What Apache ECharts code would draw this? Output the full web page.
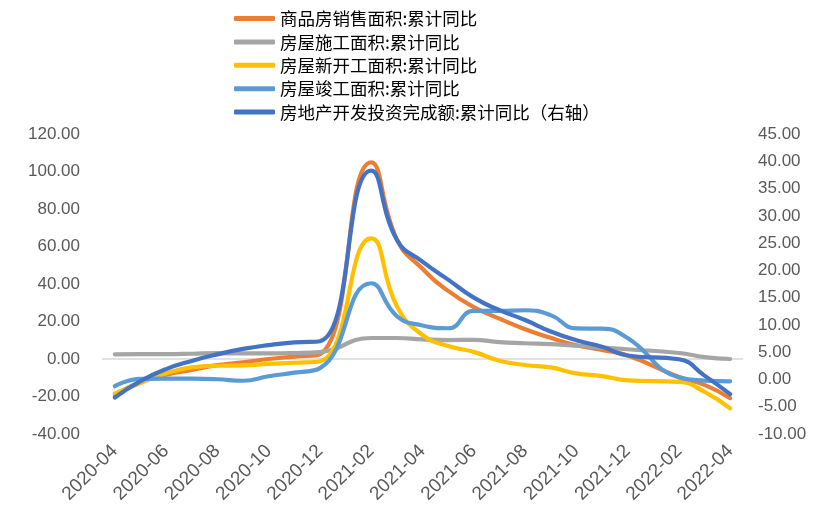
<!DOCTYPE html>
<html>
<head>
<meta charset="utf-8">
<script src="https://cdn.jsdelivr.net/npm/echarts@6/dist/echarts.min.js"></script>
<style>html,body{margin:0;padding:0;background:#fff}#c{width:830px;height:520px}</style>
</head>
<body>
<div id="c"></div>
<script>
const categories = ['2020-04','2020-05','2020-06','2020-07','2020-08','2020-09','2020-10','2020-11','2020-12','2021-01','2021-02','2021-03','2021-04','2021-05','2021-06','2021-07','2021-08','2021-09','2021-10','2021-11','2021-12','2022-01','2022-02','2022-03','2022-04'];
const salesArea = [-19.3,-12.3,-8.4,-5.8,-3.3,-1.8,0.0,1.3,2.6,null,104.9,63.8,48.1,36.3,27.7,21.5,15.9,11.3,7.3,4.8,1.9,null,-9.6,-13.8,-20.9];
const constructionArea = [2.5,2.6,2.6,2.8,3.1,3.0,3.0,3.2,3.7,null,11.2,11.2,10.5,10.1,10.2,9.0,8.4,7.9,7.1,6.1,5.2,null,3.2,1.0,0.0];
const newStartArea = [-18.4,-12.8,-7.6,-4.5,-3.6,-3.4,-2.6,-2.0,-1.2,null,64.3,28.2,12.8,6.9,3.8,-0.9,-3.2,-4.5,-7.7,-9.1,-11.4,null,-12.2,-17.5,-26.3];
const completedArea = [-14.5,-10.6,-10.5,-10.5,-10.8,-11.6,-9.2,-7.3,-4.9,null,40.4,22.9,17.9,16.4,25.7,25.7,26.0,23.4,16.3,16.2,11.2,null,-9.8,-11.5,-11.9];
const investment = [-3.3,-0.3,1.9,3.4,4.6,5.6,6.3,6.8,7.0,null,38.3,25.6,21.6,18.3,15.0,12.7,10.9,8.8,7.2,6.0,4.4,null,3.7,0.7,-2.7];
const seriesNames = ['商品房销售面积:累计同比','房屋施工面积:累计同比','房屋新开工面积:累计同比','房屋竣工面积:累计同比','房地产开发投资完成额:累计同比（右轴）'];
const colors = ['#ED7D31','#A5A5A5','#FFC000','#5B9BD5','#4472C4'];

const chart = echarts.init(document.getElementById('c'), null, {renderer:'canvas'});
const dataSets = [salesArea, constructionArea, newStartArea, completedArea, investment];
const series = dataSets.map((d,i)=>({
  name: seriesNames[i],
  type: 'line',
  data: d,
  yAxisIndex: i===4 ? 1 : 0,
  smooth: 0.5,
  connectNulls: true,
  showSymbol: false,
  symbol: 'none',
  lineStyle: {width: 4.2, color: colors[i], cap: 'round', join: 'round'},
  itemStyle: {color: colors[i]},
  z: 3 + i
}));
series[0].markLine = {
  silent: true, symbol: 'none', label: {show:false},
  lineStyle: {color:'#D9D9D9', type:'solid', width:1.5},
  data: [{yAxis: 0}], z: 1
};
const labelFont = {fontFamily:'Liberation Sans', fontSize:17, color:'#595959'};
chart.setOption({
  animation: false,
  backgroundColor: '#fff',
  color: colors,
  grid: {left:102, right:87, top:134, bottom:86, containLabel:false},
  legend: {
    orient:'vertical', left:229, top:4.5, itemGap:5.4,
    itemWidth:41, itemHeight:5, icon:'roundRect',
    textStyle:{fontFamily:'Noto Sans CJK SC', fontSize:17.5, color:'#000', lineHeight:18},
    data: seriesNames
  },
  xAxis: {
    type:'category', data: categories, boundaryGap:true,
    axisLine:{show:false}, axisTick:{show:false},
    axisLabel: {interval:1, rotate:45, margin:14, fontFamily:'Liberation Sans', fontSize:19, color:'#595959'}
  },
  yAxis: [
    {type:'value', min:-40, max:120, interval:20, splitLine:{show:false},
     axisLine:{show:false}, axisTick:{show:false},
     axisLabel: Object.assign({margin:22, formatter:v=>v.toFixed(2)}, labelFont)},
    {type:'value', min:-10, max:45, interval:5, splitLine:{show:false},
     axisLine:{show:false}, axisTick:{show:false},
     axisLabel: Object.assign({margin:15, formatter:v=>v.toFixed(2)}, labelFont)}
  ],
  series: series
});
</script>
</body>
</html>
